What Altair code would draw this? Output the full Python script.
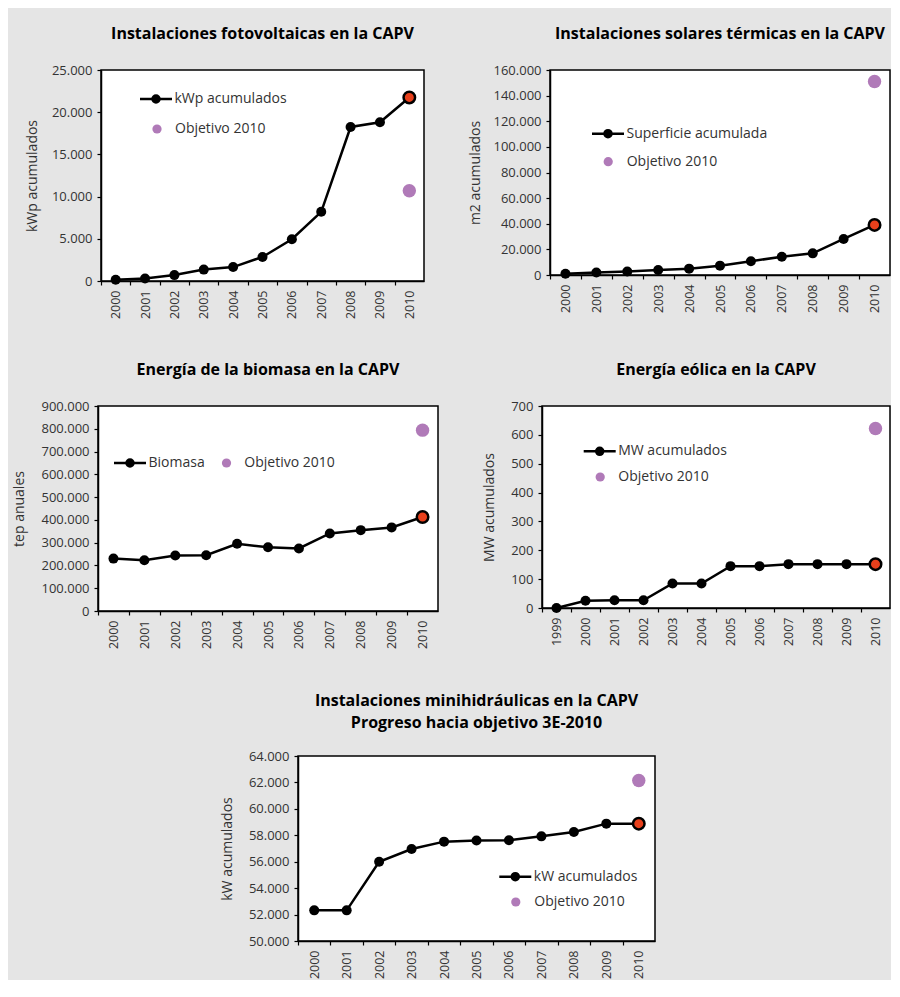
import altair as alt
import pandas as pd

FONT = "Open Sans"
TXT = "#333333"
ORANGE = "#e8401c"
PURPLE = "#b07ab8"
BG = "#e5e5e5"

# ---------------- data ----------------
pv_years = [2000, 2001, 2002, 2003, 2004, 2005, 2006, 2007, 2008, 2009, 2010]
pv_values = [150, 300, 700, 1350, 1650, 2850, 4950, 8200, 18250, 18800, 21750]
pv_target = 10700

st_years = [2000, 2001, 2002, 2003, 2004, 2005, 2006, 2007, 2008, 2009, 2010]
st_values = [1000, 2000, 2800, 3900, 4950, 7300, 10700, 14300, 16900, 28150, 39100]
st_target = 151000

bio_years = [2000, 2001, 2002, 2003, 2004, 2005, 2006, 2007, 2008, 2009, 2010]
bio_values = [230000, 223000, 243500, 245000, 295000, 280000, 274500, 340500, 355000, 367000, 412500]
bio_target = 794000

wind_years = [1999, 2000, 2001, 2002, 2003, 2004, 2005, 2006, 2007, 2008, 2009, 2010]
wind_values = [0, 25, 27, 27, 85, 85, 145, 145, 152, 152, 152, 152]
wind_target = 622

hyd_years = [2000, 2001, 2002, 2003, 2004, 2005, 2006, 2007, 2008, 2009, 2010]
hyd_values = [52320, 52320, 56000, 56960, 57520, 57600, 57620, 57920, 58250, 58880, 58880]
hyd_target = 62140

TARGET_LABEL = "Objetivo 2010"

# legend symbol: short line with a dot in the middle
LINE_DOT = ("M-1,0L1,0M-0.22,0A0.22,0.22,0,1,1,0.22,0"
            "A0.22,0.22,0,1,1,-0.22,0Z")


def panel(title, years, values, target, series, ytitle, ymin, ymax, ystep,
          width, height, title_pad, legA, legB, title_offset=22):
    x0, x1 = years[0] - 0.5, years[-1] + 0.5
    band = width / len(years)
    edges = [y - 0.5 for y in years]
    df = pd.DataFrame({"year": years, "value": values, "serie": [series] * len(years)})
    last = df.tail(1)
    tgt = pd.DataFrame({"year": [years[-1]], "value": [target], "obj": [TARGET_LABEL]})

    xenc = alt.X(
        "year:Q",
        scale=alt.Scale(domain=[x0, x1], nice=False, zero=False),
        axis=alt.Axis(
            values=edges,
            labelExpr="format(datum.value + 0.5, 'd')",
            labelOffset=band / 2,
            labelAngle=270,
            labelFlush=False,
            labelOverlap=False,
            labelFontSize=12.5,
            tickSize=4,
            labelPadding=5,
            grid=False,
            title=None,
        ),
    )
    yenc = alt.Y(
        "value:Q",
        scale=alt.Scale(domain=[ymin, ymax], nice=False, zero=False),
        axis=alt.Axis(
            values=list(range(ymin, ymax + 1, ystep)),
            labelExpr="replace(format(datum.value, ','), ',', '.')",
            labelOverlap=False,
            tickSize=4,
            labelPadding=5,
            grid=False,
            title=ytitle,
            titlePadding=title_pad,
        ),
    )

    line = alt.Chart(df).mark_line(strokeWidth=2.5).encode(
        x=xenc, y=yenc,
        stroke=alt.Stroke(
            "serie:N",
            scale=alt.Scale(domain=[series], range=["black"]),
            legend=alt.Legend(
                orient="none", legendX=legA[0], legendY=legA[1], title=None,
                symbolType=LINE_DOT, symbolSize=1024, symbolStrokeWidth=2.5,
                symbolFillColor="black", labelOffset=1, padding=0,
            ),
        ),
    )
    pts = alt.Chart(df).mark_circle(size=100, color="black", opacity=1).encode(x=xenc, y=yenc)
    lastpt = alt.Chart(last).mark_point(
        filled=True, fill=ORANGE, stroke="black", strokeWidth=2.5, size=132, opacity=1
    ).encode(x=xenc, y=yenc)
    goal = alt.Chart(tgt).mark_circle(size=180, opacity=1).encode(
        x=xenc, y=yenc,
        fill=alt.Fill(
            "obj:N",
            scale=alt.Scale(domain=[TARGET_LABEL], range=[PURPLE]),
            legend=alt.Legend(
                orient="none", legendX=legB[0], legendY=legB[1], title=None,
                symbolType="circle", symbolSize=85, symbolStrokeWidth=0,
                labelOffset=legB[2], padding=0,
            ),
        ),
    )
    return alt.layer(line, pts, lastpt, goal).properties(
        width=width, height=height,
        title=alt.TitleParams(
            text=title, font=FONT, fontSize=16, fontWeight="bold", color="black",
            anchor="middle", frame="group", offset=title_offset, lineHeight=22,
        ),
    )


def spacer(w, h):
    return alt.Chart(pd.DataFrame({"v": [0]})).mark_point(opacity=0, size=1).encode(
        x=alt.X("v:Q", axis=None), y=alt.Y("v:Q", axis=None)
    ).properties(width=w, height=h,
                 view=alt.ViewBackground(stroke="transparent", fill="transparent"))


p1 = panel("Instalaciones fotovoltaicas en la CAPV", pv_years, pv_values, pv_target,
           "kWp acumulados", "kWp acumulados", 0, 25000, 5000,
           323, 211, 12, (37.5, 11.5), (49, 52, 11))
p2 = panel("Instalaciones solares térmicas en la CAPV", st_years, st_values, st_target,
           "Superficie acumulada", "m2 acumulados", 0, 160000, 20000,
           340, 205, 10, (40.5, 46.2), (51.2, 84.7, 11.5))
p3 = panel("Energía de la biomasa en la CAPV", bio_years, bio_values, bio_target,
           "Biomasa", "tep anuales", 0, 900000, 100000,
           340, 205, 14, (14.5, 39.5), (121.5, 50, 10.8))
p4 = panel("Energía eólica en la CAPV", wind_years, wind_values, wind_target,
           "MW acumulados", "MW acumulados", 0, 700, 100,
           348, 202, 14, (40.2, 27.8), (51.2, 64, 11.1))
p5 = panel(["Instalaciones minihidráulicas en la CAPV", "Progreso hacia objetivo 3E-2010"],
           hyd_years, hyd_values, hyd_target,
           "kW acumulados", "kW acumulados", 50000, 64000, 2000,
           357, 185, 14, (199.8, 103.2), (210.8, 139, 11.5), title_offset=19)

RES = dict(stroke="independent", fill="independent")

row1 = alt.hconcat(spacer(92, 290), p1, spacer(126, 1), p2,
                   spacing=0, bounds="flush").resolve_scale(**RES).resolve_legend(**RES)
row2 = alt.hconcat(spacer(89, 285), p3, spacer(104, 1), p4,
                   spacing=0, bounds="flush").resolve_scale(**RES).resolve_legend(**RES)
row3 = alt.hconcat(spacer(289, 185), p5,
                   spacing=0, bounds="flush").resolve_scale(**RES).resolve_legend(**RES)

chart = alt.vconcat(row1, row2, row3, spacing=0).resolve_scale(**RES).resolve_legend(**RES).properties(
    padding={"left": 0, "top": 17, "right": 0, "bottom": 0}
).configure(
    background=BG,
).configure_view(
    stroke="black", strokeWidth=1.5, fill="white",
).configure_axis(
    domainColor="black", domainWidth=1.5, tickColor="black", tickWidth=1.2,
    labelFont=FONT, labelFontSize=13, labelColor=TXT,
    titleFont=FONT, titleFontSize=14, titleColor=TXT, titleFontWeight="normal",
).configure_legend(
    labelFont=FONT, labelFontSize=14, labelColor=TXT,
)

chart.save("out.html", embed_options={"renderer": "svg", "actions": False})
